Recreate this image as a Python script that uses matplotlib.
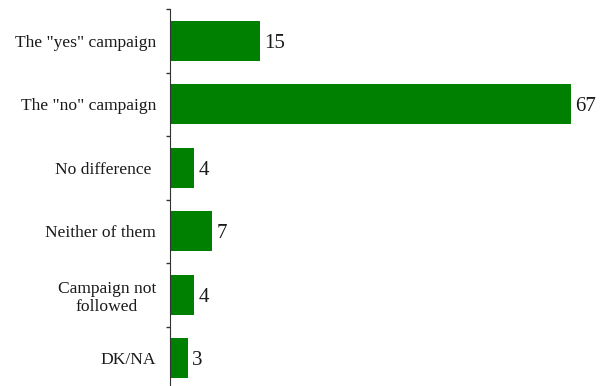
import matplotlib
matplotlib.use("Agg")
import matplotlib.pyplot as plt

categories = ['The "yes" campaign', 'The "no" campaign', "No difference ",
              "Neither of them", "Campaign not\nfollowed", "DK/NA"]
values = [15, 67, 4, 7, 4, 3]

plt.rcParams["font.family"] = ["Liberation Serif", "DejaVu Serif"]

W, H = 601, 386
fig = plt.figure(figsize=(W / 100, H / 100), dpi=100)
n = len(categories)
step = 63.5
ax = fig.add_axes([170 / W, (H - 9 - n * step) / H, (W - 170) / W, n * step / H])

ypos = list(range(n))
ax.barh(ypos, values, height=0.63, color="#008000")
ax.set_ylim(n - 0.5, -0.5)
ax.set_xlim(0, 431 / 5.98)

# value labels just past the bar ends
for y, v in zip(ypos, values):
    ax.text(v + 0.75, y, str(v), va="center_baseline", ha="left",
            fontsize=15, color="#1a1a1a")

ax.set_yticks(ypos)
ax.set_yticklabels(categories, fontsize=12.6, color="#1a1a1a")
ax.tick_params(axis="y", which="major", length=0, pad=10)
for lab in ax.get_yticklabels():
    lab.set_multialignment("center")
# tick marks sit between categories
ax.set_yticks([i - 0.5 for i in range(n + 1)], minor=True)
ax.tick_params(axis="y", which="minor", length=3, width=1, color="#333333")

ax.set_xticks([])
for s in ["top", "right", "bottom"]:
    ax.spines[s].set_visible(False)
ax.spines["left"].set_color("#333333")

fig.savefig("out.png", dpi=100)
